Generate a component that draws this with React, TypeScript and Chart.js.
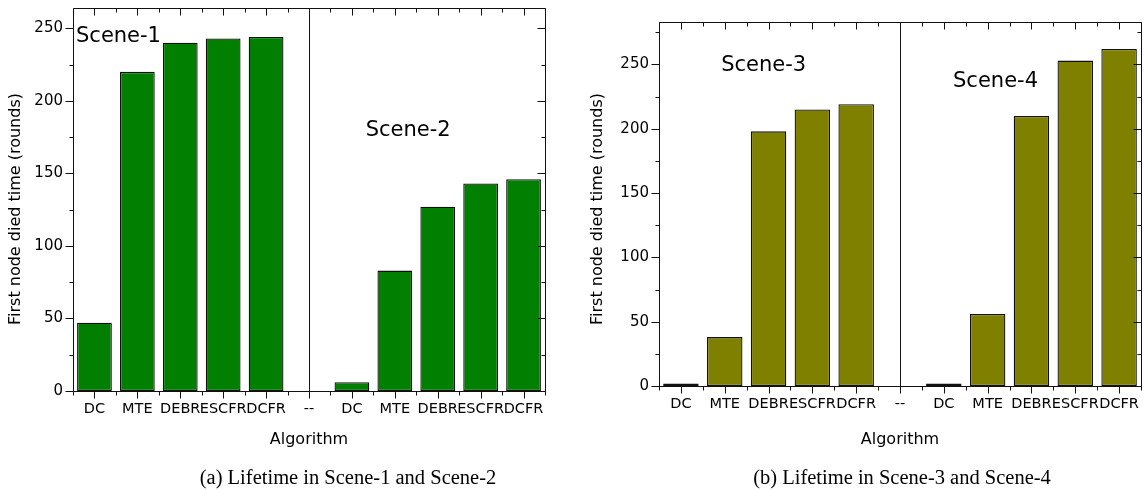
import React, { useEffect, useRef } from "react";
import { Chart, registerables } from "chart.js";

Chart.register(...registerables);

// ---- data ----
const categories = ["DC", "MTE", "DEBR", "ESCFR", "DCFR", "--", "DC", "MTE", "DEBR", "ESCFR", "DCFR"];
const lifetimeScene12 = [47, 220, 240, 243, 244, null, 6, 83, 127, 143, 146];
const lifetimeScene34 = [2, 38, 198, 215, 219, null, 2, 56, 210, 253, 262];
const yTickStep = 50;
const yMinorStep = 25;
const yMaxScene12 = 264;
const yMaxScene34 = 283;
const separatorIndex = 5;
const yTitle = "First node died time (rounds)";
const xTitle = "Algorithm";
const captionA = "(a) Lifetime in Scene-1 and Scene-2";
const captionB = "(b) Lifetime in Scene-3 and Scene-4";
const sceneLabels12 = [
  { text: "Scene-1", x: 0.56, y: 244.5 },
  { text: "Scene-2", x: 7.31, y: 179.7 },
];
const sceneLabels34 = [
  { text: "Scene-3", x: 1.89, y: 249.3 },
  { text: "Scene-4", x: 7.18, y: 236.8 },
];

const SANS = "'DejaVu Sans', 'Liberation Sans', sans-serif";

const framePlugin = {
  id: "frame",
  afterDraw(chart: any, _args: any, opts: any) {
    const { ctx, chartArea } = chart;
    const { left, right, top, bottom } = chartArea;
    const x = chart.scales.x;
    const y = chart.scales.y;
    const r = (v: number) => Math.round(v) + 0.5;
    ctx.save();
    ctx.strokeStyle = "#111";
    ctx.lineWidth = 1;
    // box
    ctx.beginPath();
    ctx.rect(r(left), r(top), Math.round(right) - Math.round(left), Math.round(bottom) - Math.round(top));
    ctx.stroke();
    // y ticks
    ctx.beginPath();
    for (let v = 0; v <= y.max; v += yMinorStep) {
      const major = v % yTickStep === 0;
      const py = r(y.getPixelForValue(v));
      const len = major ? 8 : 4;
      ctx.moveTo(r(left), py);
      ctx.lineTo(r(left) - len, py);
      ctx.moveTo(r(right), py);
      ctx.lineTo(r(right) - len, py);
    }
    // x ticks
    const n = categories.length;
    for (let i = 0; i < n; i++) {
      const px = r(x.getPixelForValue(i));
      ctx.moveTo(px, r(bottom));
      ctx.lineTo(px, r(bottom) + 7);
      ctx.moveTo(px, r(top));
      ctx.lineTo(px, r(top) + 7);
    }
    for (let i = 0; i <= n; i++) {
      const px = r(x.getPixelForValue(i - 0.5));
      ctx.moveTo(px, r(bottom));
      ctx.lineTo(px, r(bottom) + 4);
      ctx.moveTo(px, r(top));
      ctx.lineTo(px, r(top) + 4);
    }
    // separator
    const sx = r(x.getPixelForValue(separatorIndex));
    ctx.moveTo(sx, r(top));
    ctx.lineTo(sx, r(bottom));
    ctx.stroke();

    // scene labels
    ctx.fillStyle = "#000";
    ctx.font = `21px ${SANS}`;
    ctx.textAlign = "center";
    ctx.textBaseline = "middle";
    for (const s of opts.scenes || []) {
      ctx.fillText(s.text, x.getPixelForValue(s.x), y.getPixelForValue(s.y));
    }
    // x title
    ctx.font = `16px ${SANS}`;
    ctx.fillText(xTitle, (left + right) / 2, opts.xTitleY);
    // y title
    ctx.translate(opts.yTitleX, opts.yTitleY);
    ctx.rotate(-Math.PI / 2);
    ctx.fillText(yTitle, 0, 0);
    ctx.restore();
  },
};

function makeConfig(values: (number | null)[], color: string, yMax: number, layout: any, scenes: any[]) {
  return {
    type: "bar" as const,
    data: {
      labels: categories,
      datasets: [
        {
          data: values,
          backgroundColor: color,
          borderColor: "#111",
          borderWidth: 1.3,
          borderSkipped: false,
          barPercentage: 0.81,
          categoryPercentage: 1,
        },
      ],
    },
    options: {
      responsive: false,
      animation: false as const,
      layout: { padding: { left: 0, right: layout.padRight, top: layout.padTop, bottom: 0 } },
      plugins: {
        legend: { display: false },
        tooltip: { enabled: false },
        frame: { scenes, xTitleY: 440, yTitleX: layout.yTitleX, yTitleY: 209 },
      },
      scales: {
        x: {
          grid: { display: false, drawTicks: false },
          border: { display: false },
          ticks: {
            autoSkip: false,
            maxRotation: 0,
            minRotation: 0,
            padding: 10,
            color: "#000",
            font: { family: SANS, size: 14.5 },
          },
          afterFit: (s: any) => {
            s.height = layout.xHeight;
            s.paddingLeft = 0;
            s.paddingRight = 0;
          },
        },
        y: {
          min: 0,
          max: yMax,
          grid: { display: false, drawTicks: false },
          border: { display: false },
          ticks: {
            stepSize: yTickStep,
            includeBounds: false,
            padding: 10,
            color: "#000",
            font: { family: SANS, size: 15 },
          },
          afterFit: (s: any) => {
            s.width = layout.yWidth;
            s.paddingTop = 0;
            s.paddingBottom = 0;
          },
        },
      },
    },
    plugins: [framePlugin],
  };
}

function BarChart(props: { values: (number | null)[]; color: string; yMax: number; layout: any; scenes: any[]; width: number; left: number }) {
  const ref = useRef<HTMLCanvasElement>(null);
  useEffect(() => {
    if (!ref.current) return;
    const chart = new Chart(ref.current, makeConfig(props.values, props.color, props.yMax, props.layout, props.scenes) as any);
    return () => chart.destroy();
  }, []);
  return (
    <canvas
      ref={ref}
      width={props.width}
      height={490}
      style={{ position: "absolute", left: props.left, top: 0, width: props.width, height: 490, display: "block" }}
    />
  );
}

const captionStyle: React.CSSProperties = {
  position: "absolute",
  top: 465,
  height: 24,
  lineHeight: "24px",
  fontFamily: "'Liberation Serif', 'Times New Roman', serif",
  fontSize: 20.5,
  color: "#000",
  whiteSpace: "nowrap",
  transform: "translateX(-50%)",
};

export default function App() {
  return (
    <div style={{ position: "absolute", left: 0, top: 0, width: 1145, height: 490, background: "#fff", overflow: "hidden" }}>
      <BarChart
        values={lifetimeScene12}
        color="#007F00"
        yMax={yMaxScene12}
        layout={{ padRight: 27, padTop: 8, xHeight: 99, yWidth: 73, yTitleX: 16 }}
        scenes={sceneLabels12}
        width={572}
        left={0}
      />
      <BarChart
        values={lifetimeScene34}
        color="#808000"
        yMax={yMaxScene34}
        layout={{ padRight: 4, padTop: 22, xHeight: 104, yWidth: 87, yTitleX: 26 }}
        scenes={sceneLabels34}
        width={573}
        left={572}
      />
      <div style={{ ...captionStyle, left: 348 }}>{captionA}</div>
      <div style={{ ...captionStyle, left: 902 }}>{captionB}</div>
    </div>
  );
}
